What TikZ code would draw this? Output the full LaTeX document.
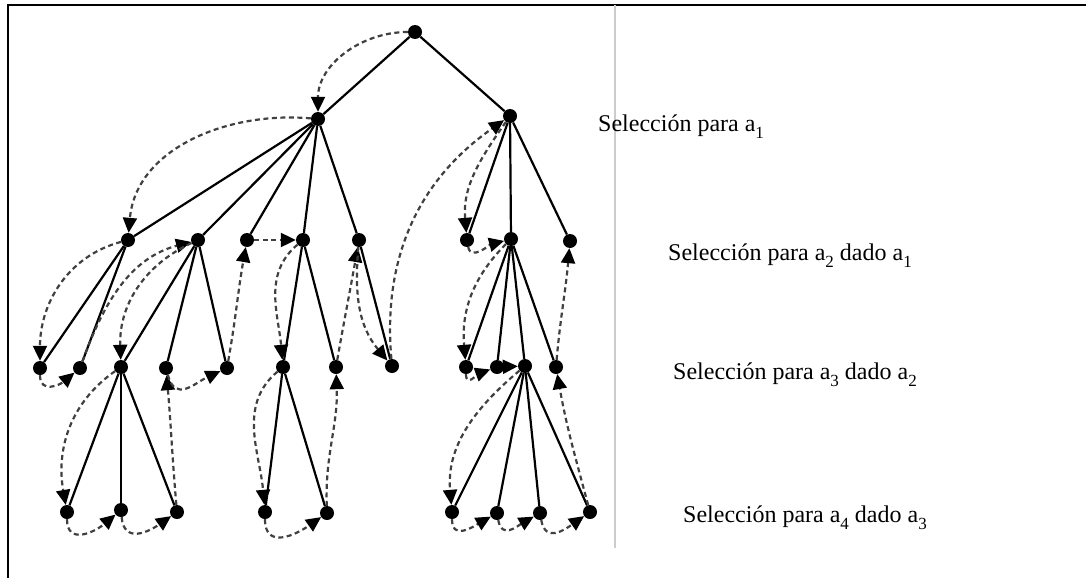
\documentclass[tikz,border=0pt]{standalone}
\usepackage{fontspec}
\setmainfont{Liberation Serif}
\usetikzlibrary{arrows.meta}
\newcommand\mysub[1]{\raisebox{-7pt}{\fontsize{17}{17}\selectfont #1}}
\tikzset{
 dot/.style={circle,fill=black,inner sep=0pt,minimum size=14pt},
 edge/.style={line width=2.2pt,black},
 trace/.style={line width=2.2pt,black!75,dash pattern=on 5pt off 3.5pt,-{Triangle[length=15pt,width=14pt,color=black]}},
 loop/.style={trace,looseness=1.4},
 lbl/.style={anchor=base west,inner sep=0pt,font=\fontsize{24}{26}\selectfont}
}
\begin{document}
\begin{tikzpicture}[x=1pt,y=1pt]
\useasboundingbox (0,0) rectangle (1086,-578);
% frame
\draw[line width=2.5pt] (8,-578) -- (8,-5) -- (1086,-5);
\draw[black!20,line width=1.5pt] (615,-5) -- (615,-548);
% nodes
\node[dot] (r) at (415,-32) {};
\node[dot] (a) at (318,-119) {};
\node[dot] (b) at (510,-116) {};
\node[dot] (a1) at (128,-240) {};
\node[dot] (a2) at (198,-240) {};
\node[dot] (a3) at (247,-240) {};
\node[dot] (a4) at (303,-240) {};
\node[dot] (a5) at (359,-240) {};
\node[dot] (b1) at (467,-240) {};
\node[dot] (b2) at (511,-239) {};
\node[dot] (b3) at (570,-241) {};
\node[dot] (a11) at (40,-368) {};
\node[dot] (a12) at (80,-368) {};
\node[dot] (a21) at (121,-367) {};
\node[dot] (a22) at (166,-368) {};
\node[dot] (a23) at (227,-368) {};
\node[dot] (a41) at (283,-367) {};
\node[dot] (a42) at (336,-367) {};
\node[dot] (a51) at (392,-366) {};
\node[dot] (b21) at (466,-367) {};
\node[dot] (b22) at (497,-367) {};
\node[dot] (b23) at (525,-366) {};
\node[dot] (b24) at (556,-367) {};
\node[dot] (a211) at (67,-512) {};
\node[dot] (a212) at (121,-510) {};
\node[dot] (a213) at (177,-512) {};
\node[dot] (a411) at (265,-512) {};
\node[dot] (a412) at (327,-513) {};
\node[dot] (b231) at (452,-512) {};
\node[dot] (b232) at (497,-513) {};
\node[dot] (b233) at (540,-513) {};
\node[dot] (b234) at (590,-512) {};
% tree edges
\draw[edge] (r) -- (a);
\draw[edge] (r) -- (b);
\foreach \c in {a1,a2,a3,a4,a5} \draw[edge] (a) -- (\c);
\foreach \c in {b1,b2,b3} \draw[edge] (b) -- (\c);
\foreach \c in {a11,a12} \draw[edge] (a1) -- (\c);
\foreach \c in {a21,a22,a23} \draw[edge] (a2) -- (\c);
\foreach \c in {a41,a42} \draw[edge] (a4) -- (\c);
\draw[edge] (a5) -- (a51);
\foreach \c in {b21,b22,b23,b24} \draw[edge] (b2) -- (\c);
\foreach \c in {a211,a212,a213} \draw[edge] (a21) -- (\c);
\foreach \c in {a411,a412} \draw[edge] (a41) -- (\c);
\foreach \c in {b231,b232,b233,b234} \draw[edge] (b23) -- (\c);
% search trace
\draw[trace] (r) to[out=180,in=90] (a);
\draw[trace] (a) to[out=175,in=85] (a1);
\draw[trace] (a1) to[out=195,in=90] (a11);
\draw[loop] (a11) to[out=-90,in=-140] (a12);
\draw[trace] (a12) to[out=70,in=195] (a2);
\draw[trace] (a2) to[out=205,in=92] (a21);
\draw[trace] (a21) to[out=215,in=100] (a211);
\draw[loop] (a211) to[out=-90,in=-140] (a212);
\draw[loop] (a212) to[out=-85,in=-145] (a213);
\draw[trace] (a213) to[out=95,in=-85] (a22);
\draw[loop] (a22) to[out=-75,in=-155] (a23);
\draw[trace] (a23) to[out=80,in=-100] (a3);
\draw[trace] (a3) -- (a4);
\draw[trace] (a4) to[out=220,in=95] (a41);
\draw[trace] (a41) to[out=220,in=95] (a411);
\draw[loop] (a411) to[out=-90,in=-145] (a412);
\draw[trace] (a412) to[out=92,in=-88] (a42);
\draw[trace] (a42) to[out=80,in=-100] (a5);
\draw[trace] (a5) to[out=-95,in=130] (a51);
\draw[trace] (a51) to[out=95,in=215] (b);
\draw[trace] (b) to[out=235,in=95] (b1);
\draw[trace] (b1) to[out=-80,in=195] (b2);
\draw[trace] (b2) to[out=225,in=95] (b21);
\draw[loop] (b21) to[out=-90,in=-160] (b22);
\draw[trace] (b22) -- (b23);
\draw[trace] (b23) to[out=220,in=95] (b231);
\draw[loop] (b231) to[out=-90,in=-150] (b232);
\draw[loop] (b232) to[out=-80,in=-150] (b233);
\draw[loop] (b233) to[out=-80,in=-145] (b234);
\draw[trace] (b234) to[out=105,in=-80] (b24);
\draw[trace] (b24) to[out=85,in=-95] (b3);
% labels
\node[lbl] (t1) at (598,-131) {Selección para a\mysub{1}};
\node[lbl] (t2) at (668,-260) {Selección para a\mysub{2} dado a\mysub{1}};
\node[lbl] (t3) at (673,-379) {Selección para a\mysub{3} dado a\mysub{2}};
\node[lbl] (t4) at (683,-522) {Selección para a\mysub{4} dado a\mysub{3}};
\end{tikzpicture}
\end{document}
